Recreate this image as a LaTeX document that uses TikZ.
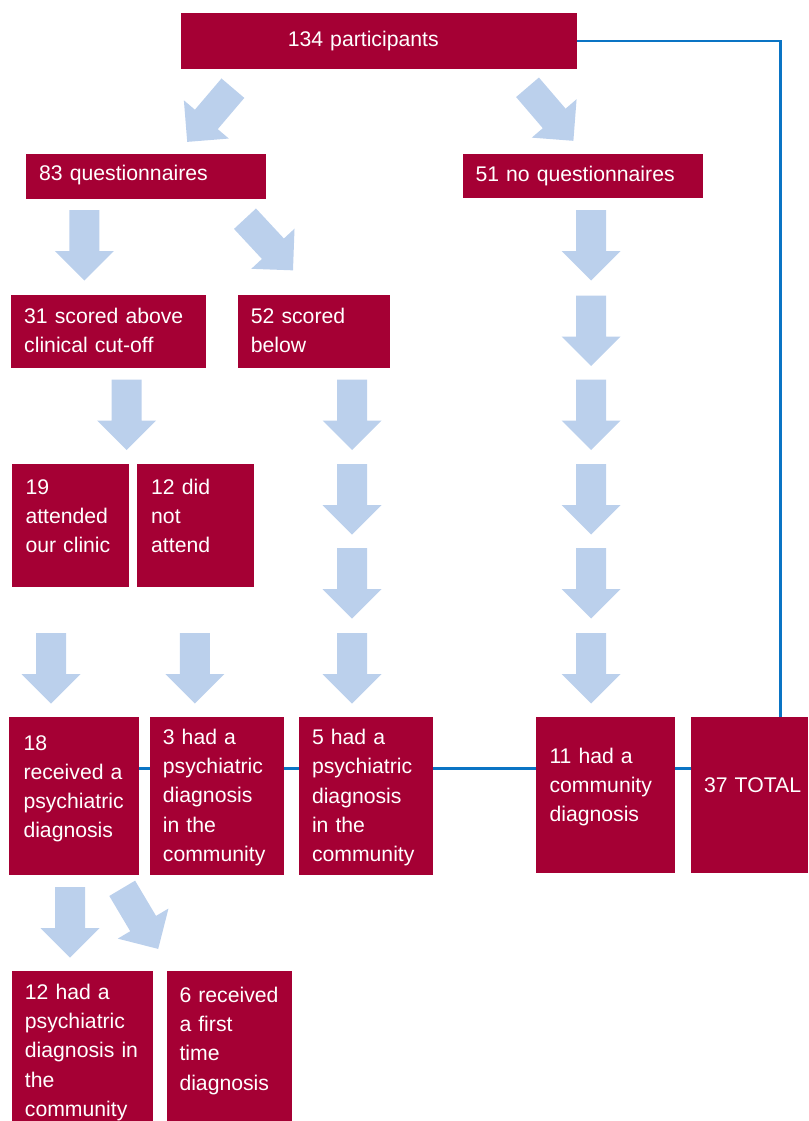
\documentclass[tikz,border=0pt]{standalone}
\usepackage{fontspec}
\setmainfont{Liberation Sans}
\usetikzlibrary{backgrounds}
\definecolor{boxred}{HTML}{A50034}
\definecolor{arrowblue}{HTML}{BBD0EC}
\definecolor{linkblue}{HTML}{0A74C4}
\begin{document}
\begin{tikzpicture}[x=1pt,y=-1pt,
	box/.style={fill=boxred,anchor=north west,inner sep=0pt},
	txt/.style={text=white,anchor=base west,inner sep=0pt,text width=220pt,align=left,font=\fontsize{21.2}{29.3}\selectfont},
	link/.style={draw=linkblue,line width=2.8pt},
	pics/blockarrow/.style={code={\fill[arrowblue] (-15,0) -- (15,0) -- (15,41) -- (29.5,41) -- (0,70.5) -- (-29.5,41) -- (-15,41) -- cycle;}}]
	\useasboundingbox (0,0) rectangle (808,1121);
	% boxes
	\node[box,minimum width=396,minimum height=55.7] (b134) at (181,13) {};
	\node[box,minimum width=239.6,minimum height=45.4] (b83) at (25.8,153.3) {};
	\node[box,minimum width=239.6,minimum height=44.4] (b51) at (462.8,153.3) {};
	\node[box,minimum width=194.7,minimum height=72.7] (b31) at (11,295) {};
	\node[box,minimum width=151.7,minimum height=72.7] (b52) at (238,295) {};
	\node[box,minimum width=117,minimum height=123] (b19) at (12,463.7) {};
	\node[box,minimum width=117,minimum height=123] (b12d) at (137,463.7) {};
	\node[box,minimum width=130,minimum height=157.6] (b18) at (9,716.7) {};
	\node[box,minimum width=133.7,minimum height=157.6] (b3) at (150,716.7) {};
	\node[box,minimum width=134,minimum height=157.6] (b5) at (298.9,716.7) {};
	\node[box,minimum width=139.1,minimum height=155.7] (b11) at (535.9,717) {};
	\node[box,minimum width=117.5,minimum height=155.7] (b37) at (690.5,717) {};
	\node[box,minimum width=141.1,minimum height=150] (b12h) at (11.9,971) {};
	\node[box,minimum width=125.2,minimum height=150] (b6) at (167,971) {};
	% texts
	\node[txt] (t134) at (287.6,46.5) {134 participants};
	\node[txt] (t83) at (39,180) {83 questionnaires};
	\node[txt] (t51) at (475.3,181) {51 no questionnaires};
	\node[txt] (t31) at (24,323.3) {31 scored above\\clinical cut-off};
	\node[txt] (t52) at (250.7,323.3) {52 scored\\below};
	\node[txt] (t19) at (25.3,494) {19\\attended\\our clinic};
	\node[txt] (t12d) at (151,494) {12 did\\not\\attend};
	\node[txt] (t18) at (23.3,750) {18\\received a\\psychiatric\\diagnosis};
	\node[txt] (t3) at (162.7,744.3) {3 had a\\psychiatric\\diagnosis\\in the\\community};
	\node[txt] (t5) at (311.8,744.5) {5 had a\\psychiatric\\diagnosis\\in the\\community};
	\node[txt] (t11) at (549.3,763.3) {11 had a\\community\\diagnosis};
	\node[txt] (t37) at (703.9,792.5) {37 TOTAL};
	\node[txt] (t12h) at (24.7,999.3) {12 had a\\psychiatric\\diagnosis in\\the\\community};
	\node[txt] (t6) at (179.3,1002.3) {6 received\\a first\\time\\diagnosis};
	% lines
	\coordinate (turn) at (780.5,0);
	\coordinate (row) at (0,768.7);
	\draw[link] (b134.east) -| (turn |- b37.north);
	\begin{scope}[on background layer]
		\draw[link] (b18.east |- row) -- (b37.west |- row);
	\end{scope}
	% arrows
	\pic[rotate=-40.4] (a1) at (232.9,88.2) {blockarrow};
	\pic[rotate=40.6] (a2) at (527.5,87.3) {blockarrow};
	\pic (a3) at (84.3,210) {blockarrow};
	\pic[rotate=42.9] (a4) at (245,218.7) {blockarrow};
	\pic (a5) at (591,210) {blockarrow};
	\pic (a6) at (591,295.5) {blockarrow};
	\pic (a7) at (591,379.5) {blockarrow};
	\pic (a8) at (591,464) {blockarrow};
	\pic (a9) at (591,548) {blockarrow};
	\pic (a10) at (591,633) {blockarrow};
	\pic (a11) at (126.7,379.5) {blockarrow};
	\pic (a12) at (352,379.5) {blockarrow};
	\pic (a13) at (352,464) {blockarrow};
	\pic (a14) at (352,548) {blockarrow};
	\pic (a15) at (352,633) {blockarrow};
	\pic (a16) at (51,633) {blockarrow};
	\pic (a17) at (194.8,633) {blockarrow};
	\pic (a18) at (70,887) {blockarrow};
	\pic[rotate=30.7] (a19) at (122.2,888.3) {blockarrow};
\end{tikzpicture}
\end{document}
